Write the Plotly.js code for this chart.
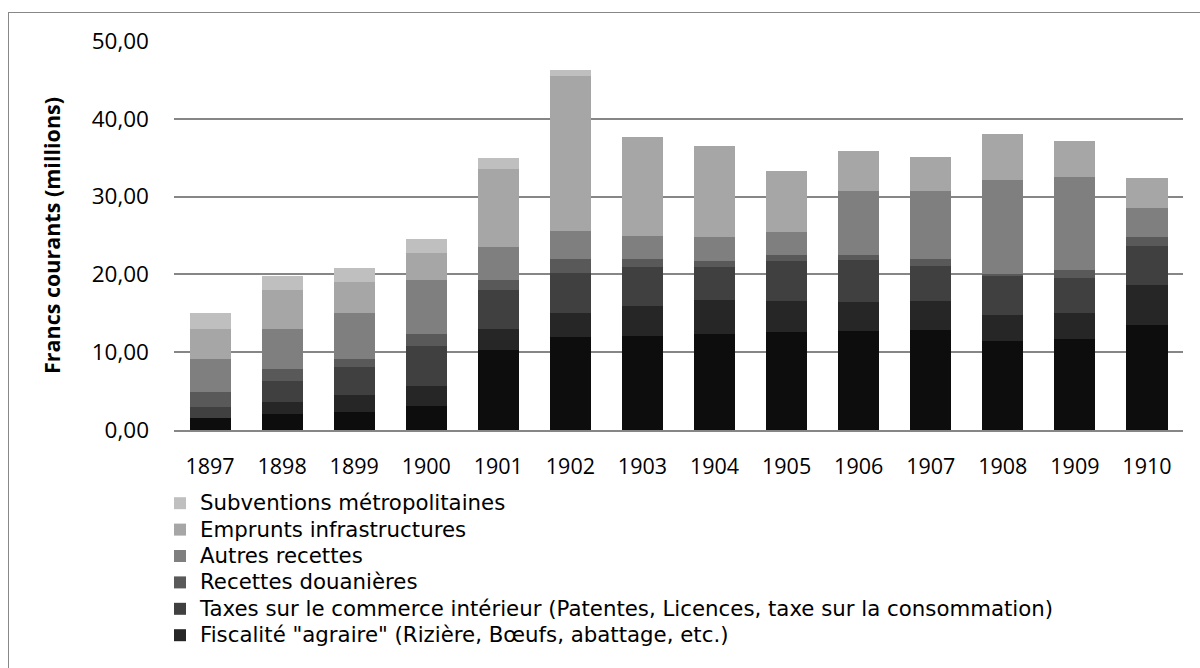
<!DOCTYPE html>
<html>
<head>
<meta charset="utf-8">
<script src="https://cdn.plot.ly/plotly-3.0.1.min.js"></script>
<style>
  html, body { margin: 0; padding: 0; background: #fff; }
  #wrap { position: relative; width: 1200px; height: 668px; overflow: hidden; }
  #frame { position: absolute; left: 8px; top: 12px; width: 1200px; height: 700px; border: 1px solid #888; box-sizing: border-box; pointer-events: none; }
  #chart { position: absolute; left: 0; top: 0; width: 1200px; height: 668px; }
  #chart .legend .legendtext { font-size: 21.3px !important; font-family: "DejaVu Sans", sans-serif !important; }
  #chart .legend .scrollbox, #chart .legend g[clip-path] { clip-path: none !important; }
</style>
</head>
<body>
<div id="wrap">
  <div id="chart"></div>
  <div id="frame"></div>
</div>
<script>
const years = ['1897','1898','1899','1900','1901','1902','1903','1904','1905','1906','1907','1908','1909','1910'];

const autresImpots = [1.6, 2.0, 2.35, 3.1, 10.3, 11.9, 12.05, 12.4, 12.65, 12.75, 12.9, 11.5, 11.65, 13.5];
const fiscaliteAgraire = [0, 1.65, 2.1, 2.5, 2.65, 3.2, 3.95, 4.3, 3.9, 3.65, 3.7, 3.3, 3.45, 5.2];
const taxesCommerce = [1.4, 2.6, 3.6, 5.25, 5.05, 5.1, 4.9, 4.3, 5.15, 5.4, 4.5, 4.95, 4.5, 4.9];
const recettesDouanieres = [1.9, 1.65, 1.05, 1.5, 1.3, 1.8, 1.1, 0.7, 0.8, 0.7, 0.9, 0.3, 1.0, 1.25];
const autresRecettes = [4.2, 5.1, 5.9, 6.95, 4.2, 3.6, 2.9, 3.15, 3.0, 8.2, 8.7, 12.05, 11.9, 3.7];
const empruntsInfra = [3.9, 5.0, 4.0, 3.5, 10.1, 19.95, 12.7, 11.6, 7.8, 5.2, 4.45, 5.95, 4.6, 3.85];
const subventions = [2.0, 1.75, 1.8, 1.75, 1.3, 0.75, 0, 0, 0, 0, 0, 0, 0, 0];

const yTickVals = [0, 10, 20, 30, 40, 50];
const yTickText = ['0,00', '10,00', '20,00', '30,00', '40,00', '50,00'];

const series = [
  {name: '', y: autresImpots, color: '#0d0d0d', legend: false},
  {name: 'Fiscalité "agraire" (Rizière, Bœufs, abattage, etc.)', y: fiscaliteAgraire, color: '#262626', legend: true},
  {name: 'Taxes sur le commerce intérieur (Patentes, Licences, taxe sur la consommation)', y: taxesCommerce, color: '#404040', legend: true},
  {name: 'Recettes douanières', y: recettesDouanieres, color: '#595959', legend: true},
  {name: 'Autres recettes', y: autresRecettes, color: '#7f7f7f', legend: true},
  {name: 'Emprunts infrastructures', y: empruntsInfra, color: '#a6a6a6', legend: true},
  {name: 'Subventions métropolitaines', y: subventions, color: '#bfbfbf', legend: true}
];

const FONT = '"Open Sans", "DejaVu Sans", sans-serif';

const traces = series.map((s) => ({
  type: 'bar',
  x: years,
  y: s.y,
  name: s.name,
  showlegend: s.legend,
  marker: { color: s.color, line: { width: 0 } },
  hoverinfo: 'x+y+name'
}));

const layout = {
  width: 1200,
  height: 668,
  paper_bgcolor: '#ffffff',
  plot_bgcolor: '#ffffff',
  barmode: 'stack',
  bargap: 0.43,
  margin: { l: 174, r: 17, t: 41, b: 238, pad: 0, autoexpand: false },
  font: { family: FONT, size: 21, color: '#000' },
  xaxis: {
    type: 'category',
    showgrid: false,
    showline: true,
    linecolor: '#868686',
    linewidth: 2,
    ticks: '',
    tickangle: 0,
    ticklabelstandoff: 16,
    tickfont: { family: FONT, size: 21.5, color: '#000' },
    zeroline: false,
    automargin: false
  },
  yaxis: {
    range: [0, 50],
    tickvals: yTickVals,
    ticktext: yTickText,
    showgrid: true,
    gridcolor: '#868686',
    gridwidth: 2,
    zeroline: false,
    showline: false,
    ticks: '',
    ticklabelstandoff: 24,
    automargin: false,
    tickfont: { family: FONT, size: 22.5, color: '#000' },
    title: { text: 'Francs courants (millions)', font: { family: FONT, size: 21.5, color: '#000', weight: 'bold' }, standoff: 25 }
  },
  legend: {
    orientation: 'v',
    x: -0.0139,
    xanchor: 'left',
    y: -0.1414,
    yanchor: 'top',
    traceorder: 'reversed',
    font: { family: FONT, size: 18, color: '#000' },
    bgcolor: 'rgba(0,0,0,0)',
    itemwidth: 30
  },
  showlegend: true
};

Plotly.newPlot('chart', traces, layout, { displayModeBar: false, staticPlot: true });
</script>
</body>
</html>
